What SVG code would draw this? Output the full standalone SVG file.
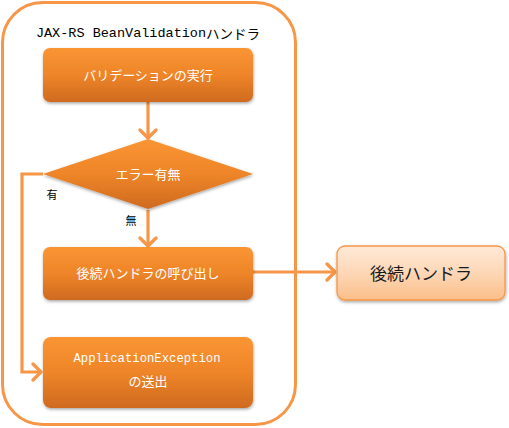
<svg xmlns="http://www.w3.org/2000/svg" width="509" height="428" viewBox="0 0 509 428">
<defs>
<linearGradient id="gDark" x1="0" y1="0" x2="0" y2="1">
<stop offset="0" stop-color="#FA9533"/>
<stop offset="0.5" stop-color="#EE8529"/>
<stop offset="1" stop-color="#CF6A1F"/>
</linearGradient>
<linearGradient id="gLight" x1="0" y1="0" x2="0" y2="1">
<stop offset="0" stop-color="#FFE9D8"/>
<stop offset="0.5" stop-color="#FDD7B6"/>
<stop offset="1" stop-color="#FBBE88"/>
</linearGradient>
<filter id="sh" x="-10%" y="-10%" width="120%" height="130%">
<feDropShadow dx="0.5" dy="1.5" stdDeviation="1.5" flood-color="#000" flood-opacity="0.35"/>
</filter>
<marker id="arr" markerUnits="userSpaceOnUse" markerWidth="16" markerHeight="20" viewBox="0 0 16 20" refX="13" refY="10" orient="auto">
<path d="M5,2 L13,10 L5,18" fill="none" stroke="#F79646" stroke-width="3.2" stroke-linecap="round" stroke-linejoin="round"/>
</marker>
</defs>
<style>
.conn{fill:none;stroke:#F79646;stroke-width:3.2;}
.box{fill:url(#gDark);filter:url(#sh);}
.wt{fill:#FFFFFF;font-family:"Noto Sans CJK JP","Noto Sans",sans-serif;font-size:13px;text-anchor:middle;dominant-baseline:central;}
.mono{font-family:"Liberation Mono","DejaVu Sans Mono","Noto Sans CJK JP",monospace;}
.lbl{fill:#000;font-family:"Noto Sans CJK JP",sans-serif;font-size:11px;text-anchor:middle;dominant-baseline:central;}
</style>
<g id="container">
<rect x="2.5" y="2.5" width="293" height="422" rx="40" ry="40" fill="#FFFFFF" stroke="#F79646" stroke-width="3"/>
<text x="148" y="33" font-size="13.5" fill="#000" text-anchor="middle" dominant-baseline="central" font-family="Liberation Mono, DejaVu Sans Mono, monospace">JAX-RS BeanValidation<tspan font-family="Noto Sans CJK JP, sans-serif">ハンドラ</tspan></text>
</g>
<g id="connectors">
<path class="conn" d="M148,102 V138" marker-end="url(#arr)"/>
<path class="conn" d="M148,210 V246" marker-end="url(#arr)"/>
<path class="conn" d="M43,174 H22 V372 H41" marker-end="url(#arr)"/>
<path class="conn" d="M253,272 H335" marker-end="url(#arr)"/>
<text class="lbl" x="52" y="194">有</text>
<text class="lbl" x="131" y="220">無</text>
</g>
<g id="validate">
<rect class="box" x="43" y="48" width="210" height="54" rx="7"/>
<text class="wt" x="148" y="74">バリデーションの実行</text>
</g>
<g id="decision">
<polygon points="148,139 253,174 148,209 43,174" fill="url(#gDark)" filter="url(#sh)"/>
<text class="wt" x="148" y="173">エラー有無</text>
</g>
<g id="callNext">
<rect class="box" x="43" y="247" width="210" height="53" rx="7"/>
<text class="wt" x="148" y="272">後続ハンドラの呼び出し</text>
</g>
<g id="throwEx">
<rect class="box" x="43" y="337" width="210" height="71" rx="8"/>
<text class="wt mono" x="147" y="358" font-size="12.2" textLength="147" lengthAdjust="spacingAndGlyphs">ApplicationException</text>
<text class="wt" x="148" y="380">の送出</text>
</g>
<g id="nextHandler">
<rect x="337" y="246" width="168" height="54" rx="8" fill="url(#gLight)" stroke="#F79646" stroke-width="1.3" filter="url(#sh)"/>
<text x="421" y="272" fill="#1A1A1A" font-family="Noto Sans CJK JP, sans-serif" font-size="17" text-anchor="middle" dominant-baseline="central">後続ハンドラ</text>
</g>
</svg>
